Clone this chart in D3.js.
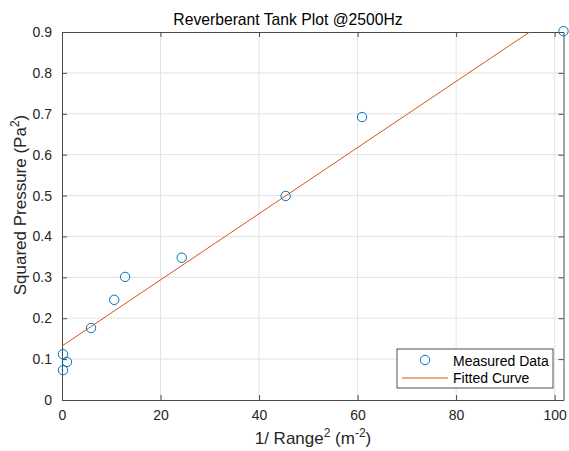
<!DOCTYPE html>
<html><head><meta charset="utf-8">
<script src="https://cdn.jsdelivr.net/npm/d3@7"></script>
<style>body{margin:0;background:#fff;} text{font-family:"Liberation Sans",Arial,sans-serif;}</style>
</head><body>
<svg id="c" width="569" height="451"></svg>
<script>
const xData = [0.2, 0.2, 1.0, 5.9, 10.6, 12.8, 24.3, 45.4, 60.9, 101.8];
const yData = [0.112, 0.073, 0.093, 0.176, 0.245, 0.301, 0.348, 0.499, 0.692, 0.902];
const fitIntercept = 0.132;
const fitSlope = 0.00809;
const xTicks = [0, 20, 40, 60, 80, 100];
const yTicks = [0, 0.1, 0.2, 0.3, 0.4, 0.5, 0.6, 0.7, 0.8, 0.9];
const xDomain = [0, 101.8];
const yDomain = [0, 0.9];

const svg = d3.select("#c");
const L = 62, R = 563.5, T = 32, B = 400;
const x = d3.scaleLinear().domain(xDomain).range([L, R]);
const y = d3.scaleLinear().domain(yDomain).range([B, T]);
const axisCol = "#4a4a4a", txtCol = "#262626";

// grid
svg.append("g").selectAll("line").data(xTicks.filter(d=>d>0)).join("line")
  .attr("x1", d=>x(d)).attr("x2", d=>x(d)).attr("y1", T).attr("y2", B)
  .attr("stroke", "#e3e3e3").attr("stroke-width", 1);
svg.append("g").selectAll("line").data(yTicks.filter(d=>d>0 && d<0.9)).join("line")
  .attr("y1", d=>y(d)).attr("y2", d=>y(d)).attr("x1", L).attr("x2", R)
  .attr("stroke", "#e3e3e3").attr("stroke-width", 1);

// axes
const gx = svg.append("g").attr("transform", `translate(0,${B})`)
  .call(d3.axisBottom(x).tickValues(xTicks).tickSize(-5).tickPadding(10).tickSizeOuter(0));
const gxt = svg.append("g").attr("transform", `translate(0,${T})`)
  .call(d3.axisTop(x).tickValues(xTicks).tickSize(-5).tickFormat("").tickSizeOuter(0));
const gy = svg.append("g").attr("transform", `translate(${L},0)`)
  .call(d3.axisLeft(y).tickValues(yTicks).tickSize(-5).tickPadding(10).tickFormat(d=>d===0?"0":d3.format(".1f")(d)).tickSizeOuter(0));
const gyr = svg.append("g").attr("transform", `translate(${R},0)`)
  .call(d3.axisRight(y).tickValues(yTicks).tickSize(-5).tickFormat("").tickSizeOuter(0));
[gx,gxt,gy,gyr].forEach(g=>{
  g.selectAll("path,line").attr("stroke", axisCol);
  g.selectAll("text").attr("fill", txtCol).style("font-size","14px").style("font-family","'Liberation Sans',Arial,sans-serif");
});

// fitted line clipped
svg.append("clipPath").attr("id","clip").append("rect").attr("x",L).attr("y",T).attr("width",R-L).attr("height",B-T);
const fitPts = [xDomain[0], xDomain[1]].map(v=>[v, fitIntercept + fitSlope*v]);
svg.append("path").attr("clip-path","url(#clip)")
  .attr("d", d3.line().x(d=>x(d[0])).y(d=>y(d[1]))(fitPts))
  .attr("fill","none").attr("stroke","#D95319").attr("stroke-width",1);

// points
svg.append("g").selectAll("circle").data(xData.map((v,i)=>[v,yData[i]])).join("circle")
  .attr("cx", d=>x(d[0])).attr("cy", d=>y(d[1])).attr("r", 4.7)
  .attr("fill","none").attr("stroke","#0072BD").attr("stroke-width",1);

// title
svg.append("text").attr("x", 288).attr("y", 25).attr("text-anchor","middle")
  .attr("fill","#000").style("font-size","15.7px").text("Reverberant Tank Plot @2500Hz");

// x label
const xl = svg.append("text").attr("x", 313).attr("y", 444).attr("text-anchor","middle")
  .attr("fill",txtCol).style("font-size","17px");
xl.append("tspan").text("1/ Range");
xl.append("tspan").attr("dy",-7).style("font-size","12px").text("2");
xl.append("tspan").attr("dy",7).text(" (m");
xl.append("tspan").attr("dy",-7).style("font-size","12px").text("-2");
xl.append("tspan").attr("dy",7).text(")");

// y label
const yl = svg.append("text").attr("transform","translate(26,205) rotate(-90)").attr("text-anchor","middle")
  .attr("fill",txtCol).style("font-size","17px");
yl.append("tspan").text("Squared Pressure (Pa");
yl.append("tspan").attr("dy",-7).style("font-size","12px").text("2");
yl.append("tspan").attr("dy",7).text(")");

// legend
const lg = svg.append("g");
lg.append("rect").attr("x",397).attr("y",349).attr("width",156).attr("height",39)
  .attr("fill","#fff").attr("stroke","#262626").attr("stroke-width",0.8);
lg.append("circle").attr("cx",425).attr("cy",360).attr("r",4.7).attr("fill","none").attr("stroke","#0072BD");
lg.append("line").attr("x1",402).attr("x2",448).attr("y1",378).attr("y2",378).attr("stroke","#D95319");
lg.append("text").attr("x",453).attr("y",365.5).attr("fill","#000").style("font-size","14px").text("Measured Data");
lg.append("text").attr("x",453).attr("y",383).attr("fill","#000").style("font-size","14px").text("Fitted Curve");
</script>
</body></html>
